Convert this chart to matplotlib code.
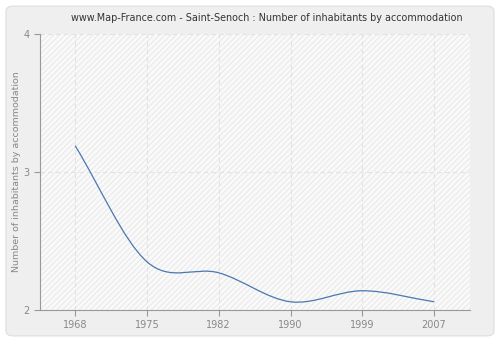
import matplotlib
matplotlib.use("Agg")
import matplotlib.pyplot as plt
from matplotlib.path import Path
from matplotlib.patches import PathPatch, FancyBboxPatch, Rectangle
import numpy as np

# data (years are spaced evenly on the axis)
years = [1968, 1975, 1982, 1990, 1999, 2007]
values = [3.19, 2.35, 2.27, 2.06, 2.14, 2.06]
yticks = [2, 3, 4]
title = "www.Map-France.com - Saint-Senoch : Number of inhabitants by accommodation"
ylabel = "Number of inhabitants by accommodation"

fig = plt.figure(figsize=(5, 3.4), dpi=100)
fig.patch.set_facecolor("white")
# rounded grey card behind everything
fig.patches.append(FancyBboxPatch((0.012, 0.012), 0.976, 0.97,
                                  boxstyle="round,pad=0,rounding_size=0.015",
                                  transform=fig.transFigure, facecolor="#efefef",
                                  edgecolor="#dddddd", linewidth=0.8, zorder=-10))

ax = fig.add_axes([0.08, 0.088, 0.86, 0.812])
ax.set_facecolor("#fafafa")
xpos = np.arange(len(years))
ax.set_xlim(-0.49, len(years) - 0.5)
ax.set_ylim(2, 4)

# light hatching over the plot area
hatch = Rectangle((0, 0), 1, 1, transform=ax.transAxes, facecolor="none",
                  edgecolor="#ececec", hatch="//////", linewidth=0, zorder=0)
ax.add_patch(hatch)

# smooth curve: Catmull-Rom tangents turned into cubic bezier segments
pts = np.column_stack([xpos, values]).astype(float)
n = len(pts)
tang = np.zeros_like(pts)
for i in range(n):
    if i == 0:
        tang[i] = pts[1] - pts[0]
    elif i == n - 1:
        tang[i] = pts[-1] - pts[-2]
    else:
        tang[i] = (pts[i + 1] - pts[i - 1]) / 2
verts = [tuple(pts[0])]
codes = [Path.MOVETO]
for i in range(n - 1):
    verts += [tuple(pts[i] + tang[i] / 3), tuple(pts[i + 1] - tang[i + 1] / 3), tuple(pts[i + 1])]
    codes += [Path.CURVE4] * 3
ax.add_patch(PathPatch(Path(verts, codes), facecolor="none", edgecolor="#4a78b0",
                       linewidth=0.9, zorder=3))

ax.set_xticks(xpos)
ax.set_xticklabels([str(y) for y in years])
ax.set_yticks(yticks)
ax.grid(True, color="#e2e2e2", linestyle=(0, (4, 3)), linewidth=0.8)
ax.set_axisbelow(True)
for s in ["top", "right"]:
    ax.spines[s].set_visible(False)
for s in ["left", "bottom"]:
    ax.spines[s].set_color("#999999")
ax.tick_params(colors="#999999", labelcolor="#888888", labelsize=7, length=4, width=0.8)
ax.set_ylabel(ylabel, color="#888888", fontsize=6.8, labelpad=2)
fig.text(0.534, 0.947, title, ha="center", va="center", fontsize=6.9, color="#333333")

fig.savefig("out.png", dpi=100, facecolor=fig.get_facecolor())
